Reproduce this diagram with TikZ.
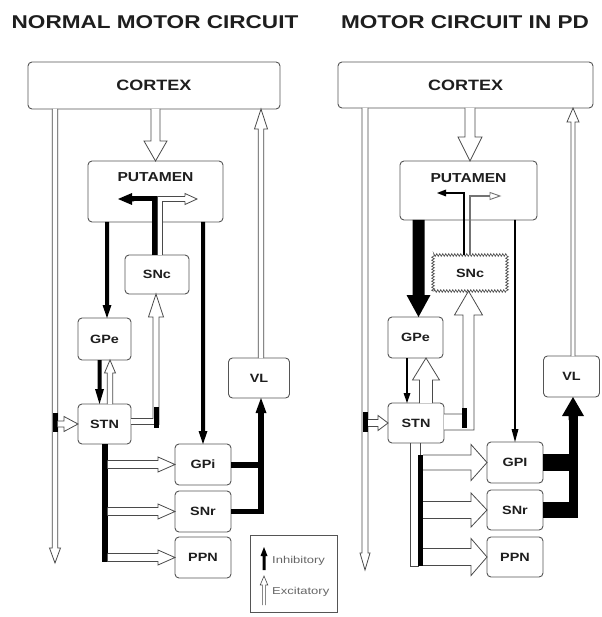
\documentclass[tikz,border=0pt]{standalone}
\usepackage{fontspec}
\setmainfont{Liberation Sans}
\usetikzlibrary{arrows.meta,calc,decorations.pathmorphing}
\definecolor{ink}{HTML}{1E1E1E}
\definecolor{edge}{HTML}{555555}
\definecolor{pipe}{HTML}{4A4A4A}
\newcommand\wide[2][1.2]{\scalebox{#1}[1]{#2}}
% straight arrow drawn as an outline/filled polygon:
% [style]{start}{tip}{shaft half width}{head half width}{head length}
\newcommand\arrowpoly[6][]{%
  \path[#1] let \p1=#2, \p2=#3,
      \n1={atan2(\y2-\y1,\x2-\x1)}, \n2={veclen(\x2-\x1,\y2-\y1)} in
    [shift={(\p1)}, rotate=\n1]
    (0pt,#4pt) -- (\n2-#6pt,#4pt) -- (\n2-#6pt,#5pt) -- (\n2,0pt)
    -- (\n2-#6pt,-#5pt) -- (\n2-#6pt,-#4pt) -- (0pt,-#4pt);}
\begin{document}
\begin{tikzpicture}[x=1pt,y=-1pt,
  box/.style={draw=edge, line width=0.9pt, rounded corners=4pt, fill=white,
    inner sep=0pt, outer sep=0pt, text=ink, font=\fontsize{12}{12}\selectfont\bfseries},
  hol/.style={draw=pipe, line width=0.8pt, fill=white, line join=miter},
  sol/.style={fill=black},
  title/.style={font=\fontsize{18.5}{20}\selectfont\bfseries, text=ink, anchor=base, inner sep=0pt},
  legtext/.style={font=\fontsize{10}{10}\selectfont, text=black!60, inner sep=0pt, anchor=west},
  pipeline/.style={draw=pipe, line width=0.8pt},
]
\useasboundingbox (0,0) rectangle (601,617);

% ---------------- titles ----------------
\node[title] (tL) at (155,28.5) {\wide[1.22]{NORMAL MOTOR CIRCUIT}};
\node[title] (tR) at (465,28.5) {\wide[1.22]{MOTOR CIRCUIT IN PD}};

% ---------------- left: boxes ----------------
\node[box, minimum width=252pt, minimum height=47pt, font=\fontsize{15}{15}\selectfont\bfseries] (cortexL) at (154,85.5) {\wide{CORTEX}};
\node[box, minimum width=135pt, minimum height=61pt] (putL) at (155.5,191.5) {};
\node[text=ink, font=\fontsize{13}{13}\selectfont\bfseries, inner sep=0pt] (putLlab) at (155.5,177) {\wide{PUTAMEN}};
\node[box, minimum width=64pt, minimum height=39pt] (sncL) at (157,274.5) {\wide{SNc}};
\node[box, minimum width=53pt, minimum height=42pt] (gpeL) at (104.5,339) {\wide{GPe}};
\node[box, minimum width=53pt, minimum height=40pt] (stnL) at (104.5,424) {\wide{STN}};
\node[box, minimum width=61pt, minimum height=40pt] (vlL) at (259,378) {\wide{VL}};
\node[box, minimum width=56pt, minimum height=41pt] (gpiL) at (203,464.5) {\wide{GPi}};
\node[box, minimum width=56pt, minimum height=41pt] (snrL) at (203,511.5) {\wide{SNr}};
\node[box, minimum width=56pt, minimum height=41pt] (ppnL) at (203,557.5) {\wide{PPN}};

% ---------------- left: connectors ----------------
\coordinate (xL1) at (107,0);
\coordinate (xL2) at (99.5,0);
\coordinate (xL3) at (110,0);
\coordinate (xL4) at (261,0);
\coordinate (endL) at (55,563);
\coordinate (cSL) at (156,0);
\coordinate (busL) at (107.5,0);
\coordinate (pbL) at (154.5,199);
\coordinate (phL) at (160,199);

\arrowpoly[hol]{(putL.north |- cortexL.south)}{(putL.north)}{4.5}{11.5}{20}
\arrowpoly[hol]{(cortexL.south -| endL)}{(endL)}{2.7}{5.5}{15}
\arrowpoly[hol]{(vlL.north -| xL4)}{(cortexL.south -| xL4)}{2.7}{6.5}{20}
\arrowpoly[sol]{(putL.south -| xL1)}{(gpeL.north -| xL1)}{2}{4.5}{13}
\arrowpoly[sol]{(putL.south -| gpiL.north)}{(gpiL.north)}{2}{4.5}{13}
\arrowpoly[sol]{(gpeL.south -| xL2)}{(stnL.north -| xL2)}{2}{4.5}{15}
\arrowpoly[hol]{(stnL.north -| xL3)}{(gpeL.south -| xL3)}{2.7}{5.5}{13}
% STN -> SNc
\draw[hol] (stnL.east |- 0,418.5) -- (153,418.5) -- (153,317) -- (148.5,317)
  -- (sncL.south -| cSL) -- (163.5,317) -- (159,317) -- (159,424.5) -- (stnL.east |- 0,424.5);
\fill (153.5,407) rectangle (158.5,428);
% cortex -> STN
\fill (52.5,413) rectangle (57.5,432);
\arrowpoly[hol]{(57.5,424)}{(stnL.west)}{3}{7.5}{14}
% STN -> GPi / SNr / PPN
\draw[line width=6pt] (stnL.south) -- (stnL.south |- 0,562);
\arrowpoly[hol]{(busL |- gpiL.west)}{(gpiL.west)}{4}{7.5}{17}
\arrowpoly[hol]{(busL |- snrL.west)}{(snrL.west)}{4}{7.5}{17}
\arrowpoly[hol]{(busL |- ppnL.west)}{(ppnL.west)}{4}{7.5}{17}
% GPi / SNr -> VL
\draw[line width=6pt] (gpiL.east) -- ($(xL4 |- gpiL.east)+(3,0)$);
\draw[line width=5.5pt, line join=miter] (snrL.east) -- (xL4 |- snrL.east) -- (xL4 |- 0,410);
\arrowpoly[sol]{(xL4 |- 0,418)}{(vlL.south -| xL4)}{2.75}{5.5}{15}
% inside putamen
\draw[draw=pipe, line width=0.8pt, double=white, double distance=4.2pt, line join=miter]
  (sncL.north -| phL) -- (phL) -- (188,199);
\arrowpoly[hol]{(185,199)}{(197,199)}{2.5}{5.5}{12}
\draw[line width=5pt, line join=miter] (sncL.north -| pbL) -- (pbL) -- (130,199);
\arrowpoly[sol]{(134,199)}{(118,199)}{2.5}{6}{14}

% ---------------- right: boxes ----------------
\node[box, minimum width=255pt, minimum height=46pt, font=\fontsize{15}{15}\selectfont\bfseries] (cortexR) at (465.5,85) {\wide{CORTEX}};
\node[box, minimum width=137pt, minimum height=59pt] (putR) at (468.5,190.5) {};
\node[text=ink, font=\fontsize{13}{13}\selectfont\bfseries, inner sep=0pt] (putRlab) at (468.5,178) {\wide{PUTAMEN}};
\node[box, draw=none, rounded corners=0pt, minimum width=74pt, minimum height=36pt] (sncR) at (470,273) {\wide{SNc}};
\draw[draw=edge, line width=0.7pt, decorate, decoration={zigzag, segment length=3pt, amplitude=1.3pt}]
  (sncR.south west) rectangle (sncR.north east);
\node[box, minimum width=55pt, minimum height=41pt] (gpeR) at (415.5,337.5) {\wide{GPe}};
\node[box, minimum width=56pt, minimum height=40pt] (stnR) at (416,423) {\wide{STN}};
\node[box, minimum width=56pt, minimum height=41pt] (vlR) at (571.5,376.5) {\wide{VL}};
\node[box, minimum width=56pt, minimum height=41pt] (gpiR) at (515,462.5) {\wide{GPI}};
\node[box, minimum width=56pt, minimum height=40pt] (snrR) at (515,510) {\wide{SNr}};
\node[box, minimum width=56pt, minimum height=40pt] (ppnR) at (515,557) {\wide{PPN}};

% ---------------- right: connectors ----------------
\coordinate (xR1) at (470,0);
\coordinate (endR) at (365,570);
\coordinate (xR3) at (573,0);
\coordinate (xR4) at (418.5,0);
\coordinate (xR5) at (407,0);
\coordinate (xR6) at (426,0);
\coordinate (cSR) at (468.5,0);
\coordinate (busR) at (423,0);
\coordinate (pbR) at (464,193);
\coordinate (phR) at (470,196);

\arrowpoly[hol]{(xR1 |- cortexR.south)}{(xR1 |- putR.north)}{5}{12}{24}
\arrowpoly[hol]{(cortexR.south -| endR)}{(endR)}{3}{5}{17}
\arrowpoly[hol]{(vlR.north -| xR3)}{(cortexR.south -| xR3)}{2}{6}{14}
\arrowpoly[sol]{(putR.south -| xR4)}{(gpeR.north -| xR4)}{6}{12}{22}
\arrowpoly[sol]{(putR.south -| gpiR.north)}{(gpiR.north)}{0.8}{3.5}{13}
\arrowpoly[sol]{(gpeR.south -| xR5)}{(stnR.north -| xR5)}{0.8}{3.5}{10}
\arrowpoly[hol]{(stnR.north -| xR6)}{(gpeR.south -| xR6)}{6.5}{13.5}{22}
% STN -> SNc
\draw[hol] (stnR.east |- 0,414) -- (463,414) -- (463,315) -- (454.5,315)
  -- (sncR.south -| cSR) -- (482.5,315) -- (474,315) -- (474,430) -- (stnR.east |- 0,430);
\fill (462,408) rectangle (466.5,428);
% cortex -> STN
\fill (363,412) rectangle (368,432);
\arrowpoly[hol]{(368,423)}{(stnR.west)}{3.5}{7.5}{10}
% STN -> GPi / SNr / PPN
\draw[pipeline] (410,443) -- (410,566) -- (419,566);
\draw[pipeline] (420,443) -- (420,455);
\fill (418,455) rectangle (423,566);
\arrowpoly[hol]{(busR |- gpiR.west)}{(gpiR.west)}{7.5}{18}{16}
\arrowpoly[hol]{(busR |- snrR.west)}{(snrR.west)}{8.5}{17}{16}
\arrowpoly[hol]{(busR |- ppnR.west)}{(ppnR.west)}{8.5}{18.5}{16}
% GPi / SNr -> VL
\draw[line width=17pt] (gpiR.east) -- ++(35,0);
\draw[line width=16pt] (snrR.east) -- ++(35,0);
\draw[line width=9pt] (xR3 |- 0,518) -- (xR3 |- 0,412);
\arrowpoly[sol]{(xR3 |- 0,420)}{(vlR.south -| xR3)}{4.5}{11}{19}
% inside putamen
\draw[draw=black!55, line width=1.3pt, line join=miter]
  (sncR.north -| phR) -- (phR) -- (491,196);
\arrowpoly[hol, draw=black!55, line width=0.9pt]{(490,196)}{(500,196)}{0.6}{3.5}{10}
\draw[line width=1.6pt, line join=miter] (sncR.north -| pbR) -- (pbR) -- (444,193);
\arrowpoly[sol]{(446,193)}{(437,193)}{0.8}{3.5}{9}

% ---------------- legend ----------------
\node[box, rounded corners=0pt, line width=0.8pt, minimum width=87pt, minimum height=77pt] (leg) at (293.5,573.5) {};
\arrowpoly[sol]{(264,570)}{(264,547)}{1.5}{3.5}{9}
\arrowpoly[hol, line width=0.6pt]{(264,605)}{(264,576)}{1.6}{3.8}{9}
\node[legtext] (legI) at (272,561) {\wide[1.3]{Inhibitory}};
\node[legtext] (legE) at (272,592) {\wide[1.3]{Excitatory}};
\end{tikzpicture}
\end{document}
